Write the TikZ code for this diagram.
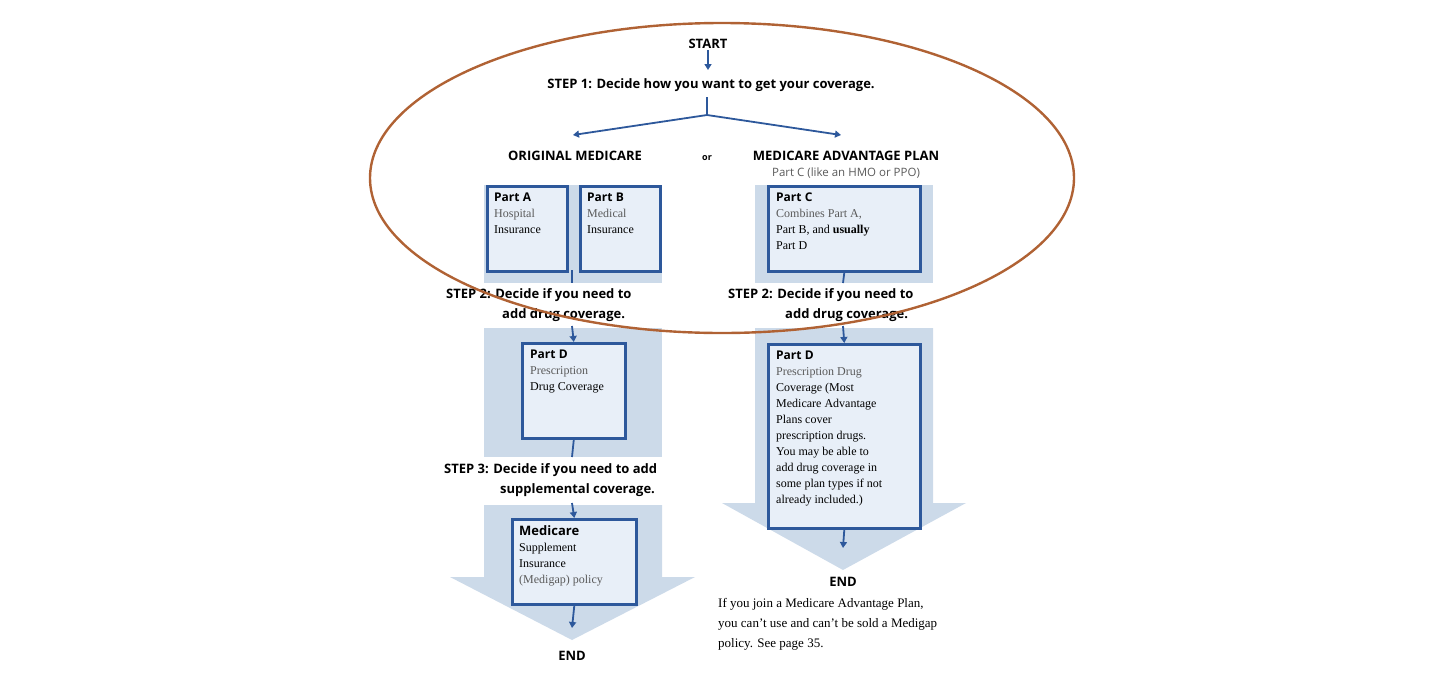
\documentclass[tikz,border=0pt]{standalone}
\usepackage{fontspec}
\setmainfont{Liberation Serif}
\setsansfont{Open Sans}
\usetikzlibrary{arrows.meta}
\definecolor{bblue}{RGB}{45,88,155}
\definecolor{bfill}{RGB}{232,239,248}
\definecolor{bgblue}{RGB}{204,218,233}
\definecolor{ell}{RGB}{176,98,52}
\definecolor{gtext}{RGB}{90,90,90}
\tikzset{
 box/.style={draw=bblue,line width=2.6pt,fill=bfill,inner sep=0pt,anchor=north west},
 lbl/.style={anchor=north west,align=left,inner sep=0pt,font=\fontsize{12}{16}\selectfont},
 stp/.style={font=\sffamily\bfseries\fontsize{13}{20}\selectfont,align=left,inner sep=0pt,anchor=north west},
 conn/.style={draw=bblue,line width=1.8pt},
 arr/.style={conn,-{Triangle[width=7pt,length=6pt]}},
 bg/.style={fill=bgblue,draw=none}
}
\newcommand{\hd}{\sffamily\bfseries}
\newcommand{\bd}{\normalfont\color{gtext}}
\begin{document}
\begin{tikzpicture}[x=1pt,y=-1pt]
\useasboundingbox (0,0) rectangle (1440,694);
% backgrounds
\fill[bg] (484,185) rectangle (662,283);
\fill[bg] (755,185) rectangle (933,283);
\fill[bg] (484,328) rectangle (662,457);
\fill[bg] (484,505) -- (662,505) -- (662,577) -- (695,577) -- (572,640) -- (450,577) -- (484,577) -- cycle;
\fill[bg] (755,328) -- (933,328) -- (933,503) -- (966,503) -- (843,570) -- (722,503) -- (755,503) -- cycle;
% top
\node[font=\sffamily\bfseries\fontsize{13}{15}\selectfont,inner sep=1pt] (start) at (708,44) {START};
\node[font=\sffamily\bfseries\fontsize{13}{15}\selectfont,inner sep=1pt] (s1) at (711,85) {STEP 1: Decide how you want to get your coverage.};
\draw[arr] (start) -- (708,70);
\coordinate (br) at (707,115);
\coordinate (lt) at (573,135);
\coordinate (rt) at (841,135);
\draw[conn] (707,97) -- (br);
\draw[arr] (br) -- (lt);
\draw[arr] (br) -- (rt);
\node[font=\sffamily\bfseries\fontsize{13}{15}\selectfont] (om) at (575,156) {ORIGINAL MEDICARE};
\node[font=\sffamily\bfseries\fontsize{9}{11}\selectfont] (or) at (707,158) {or};
\node[font=\sffamily\bfseries\fontsize{13}{15}\selectfont] (map) at (846,156) {MEDICARE ADVANTAGE PLAN};
\node[font=\sffamily\fontsize{11.5}{13}\selectfont,text=gtext] (pc) at (846,173) {Part C (like an HMO or PPO)};
% boxes
\node[box,minimum width=80,minimum height=85] (A) at (486,185) {};
\node[lbl] at (494,193) {\hd Part A\\\bd Hospital\\Insurance};
\node[box,minimum width=80,minimum height=85] (B) at (579,185) {};
\node[lbl] at (587,193) {\hd Part B\\\bd Medical\\Insurance};
\node[box,minimum width=152,minimum height=85] (C) at (767,185) {};
\node[lbl] at (776,193) {\hd Part C\\\bd Combines Part A,\\Part B, and \textbf{usually}\\Part D};
\coordinate (ab) at (572,270);
\draw[conn] (ab) -- (572,283);
\draw[conn] (C.south) -- (843,283);
\node[stp] (s2l) at (446,288) {STEP 2: Decide if you need to\\\hspace*{56pt}add drug coverage.};
\node[stp] (s2r) at (728,288) {STEP 2: Decide if you need to\\\hspace*{57pt}add drug coverage.};
\node[box,minimum width=103,minimum height=95] (D1) at (521,342) {};
\node[lbl] at (530,350) {\hd Part D\\\bd Prescription\\Drug Coverage};
\node[box,minimum width=152,minimum height=184] (D2) at (767,343) {};
\node[lbl] at (776,351) {\hd Part D\\\bd Prescription Drug\\Coverage (Most\\Medicare Advantage\\Plans cover\\prescription drugs.\\You may be able to\\add drug coverage in\\some plan types if not\\already included.)};
\draw[arr] (572,326) -- (D1.north);
\draw[arr] (843,326) -- (D2.north);
\draw[conn] (D1.south) -- (572,457);
\node[stp] (s3) at (444,463) {STEP 3: Decide if you need to add\\\hspace*{56pt}supplemental coverage.};
\node[box,minimum width=124,minimum height=85] (M) at (511,518) {};
\node[lbl] at (519,525) {\hd\fontsize{13}{16}\selectfont Medicare\\Supplement\\Insurance\\\bd\fontsize{12}{16}\selectfont (Medigap) policy};
\draw[arr] (572,503) -- (M.north);
\coordinate (e1) at (572,628);
\draw[arr] (M.south) -- (e1);
\node[font=\sffamily\bfseries\fontsize{13}{15}\selectfont] (end1) at (572,656) {END};
\coordinate (e2) at (843,548);
\draw[arr] (D2.south) -- (e2);
\node[font=\sffamily\bfseries\fontsize{13}{15}\selectfont] (end2) at (843,582) {END};
\node[lbl,font=\fontsize{13}{20}\selectfont] (note) at (718,598) {If you join a Medicare Advantage Plan,\\you can't use and can't be sold a Medigap\\policy. See page 35.};
% ellipse
\draw[ell,line width=2.4pt] (722,178) ellipse [x radius=352,y radius=155];
\end{tikzpicture}
\end{document}
